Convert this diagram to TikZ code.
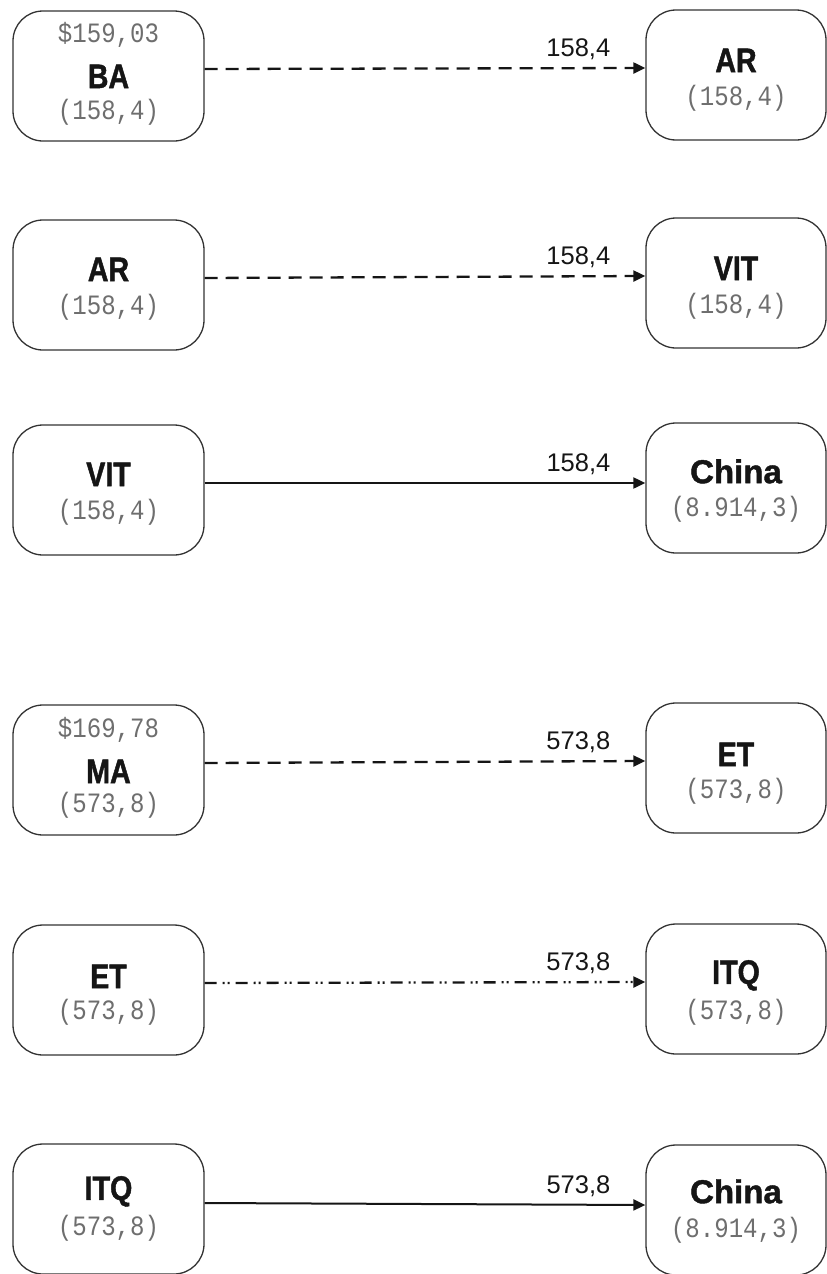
\documentclass[tikz,border=0pt]{standalone}
\usepackage{fontspec}
\setmainfont{Liberation Sans}
\newfontfamily\namefont[FakeStretch=0.84,FakeBold=1.3]{Liberation Sans}
\newfontfamily\widenamefont[FakeBold=1.3]{Liberation Sans}
\newfontfamily\numfont[FakeStretch=0.86]{Liberation Mono}
\usetikzlibrary{arrows.meta}
\definecolor{boxline}{HTML}{333333}
\definecolor{numgray}{HTML}{6E6E6E}
\definecolor{ink}{HTML}{151515}
\tikzset{
  flowbox/.style={draw=boxline, line width=1.3pt, rounded corners=30pt,
    minimum width=191pt, minimum height=130pt, inner sep=0pt},
  rbox/.style={flowbox, minimum width=180pt},
  nametxt/.style={inner sep=0pt, text=ink, font=\namefont\bfseries\fontsize{34}{34}\selectfont},
  widetxt/.style={inner sep=0pt, text=ink, font=\widenamefont\bfseries\fontsize{33}{33}\selectfont},
  numtxt/.style={inner sep=0pt, text=numgray, font=\numfont\fontsize{28}{28}\selectfont},
  conn/.style={draw=ink, line width=2pt, -{Triangle[length=12pt,width=11pt]}},
  dashA/.style={line width=2.3pt, dash pattern=on 13pt off 8pt},
  dashB/.style={line width=2.3pt, dash pattern=on 12pt off 6pt on 2pt off 3pt on 2pt off 6pt},
  lbl/.style={pos=1, anchor=base east, xshift=-34pt, yshift=12pt, inner sep=0pt,
    text=ink, font=\fontsize{25.5}{26}\selectfont}
}
\begin{document}
\begin{tikzpicture}[x=1pt,y=-1pt]
\useasboundingbox (0,0) rectangle (827,1274);
% ---------- row 1
\node[flowbox] (L1) at (108.5,76) {};
\node[numtxt] (L1a) at ([yshift=-25pt]L1.north) {\$159,03};
\node[nametxt] (L1b) at ([yshift=-66pt]L1.north) {BA};
\node[numtxt] (L1c) at ([yshift=-102pt]L1.north) {(158,4)};
\node[rbox] (R1) at (736,75) {};
\node[nametxt] (R1b) at ([yshift=-51pt]R1.north) {AR};
\node[numtxt] (R1c) at ([yshift=-89pt]R1.north) {(158,4)};
\draw[conn,dashA] ([yshift=7pt]L1.east) -- ([yshift=7pt]R1.west) node[lbl] (E1) {158,4};
% ---------- row 2
\node[flowbox] (L2) at (108.5,285) {};
\node[nametxt] (L2b) at ([yshift=-50pt]L2.north) {AR};
\node[numtxt] (L2c) at ([yshift=-88pt]L2.north) {(158,4)};
\node[rbox] (R2) at (736,283) {};
\node[nametxt] (R2b) at ([yshift=-51pt]R2.north) {VIT};
\node[numtxt] (R2c) at ([yshift=-89pt]R2.north) {(158,4)};
\draw[conn,dashA] ([yshift=7pt]L2.east) -- ([yshift=7pt]R2.west) node[lbl] (E2) {158,4};
% ---------- row 3
\node[flowbox] (L3) at (108.5,490) {};
\node[nametxt] (L3b) at ([yshift=-50pt]L3.north) {VIT};
\node[numtxt] (L3c) at ([yshift=-88pt]L3.north) {(158,4)};
\node[rbox] (R3) at (736,488) {};
\node[widetxt] (R3b) at ([yshift=-49pt]R3.north) {China};
\node[numtxt] (R3c) at ([yshift=-87pt]R3.north) {(8.914,3)};
\draw[conn] ([yshift=7pt]L3.east) -- ([yshift=5pt]R3.west) node[lbl] (E3) {158,4};
% ---------- row 4
\node[flowbox] (L4) at (108.5,770) {};
\node[numtxt] (L4a) at ([yshift=-26pt]L4.north) {\$169,78};
\node[nametxt] (L4b) at ([yshift=-67pt]L4.north) {MA};
\node[numtxt] (L4c) at ([yshift=-101pt]L4.north) {(573,8)};
\node[rbox] (R4) at (736,768) {};
\node[nametxt] (R4b) at ([yshift=-52pt]R4.north) {ET};
\node[numtxt] (R4c) at ([yshift=-89pt]R4.north) {(573,8)};
\draw[conn,dashA] ([yshift=7pt]L4.east) -- ([yshift=7pt]R4.west) node[lbl] (E4) {573,8};
% ---------- row 5
\node[flowbox] (L5) at (108.5,990) {};
\node[nametxt] (L5b) at ([yshift=-52pt]L5.north) {ET};
\node[numtxt] (L5c) at ([yshift=-88pt]L5.north) {(573,8)};
\node[rbox] (R5) at (736,989) {};
\node[nametxt] (R5b) at ([yshift=-52pt]R5.north) {ITQ};
\node[numtxt] (R5c) at ([yshift=-89pt]R5.north) {(573,8)};
\draw[conn,dashB] ([yshift=7pt]L5.east) -- ([yshift=7pt]R5.west) node[lbl] (E5) {573,8};
% ---------- row 6
\node[flowbox] (L6) at (108.5,1209) {};
\node[nametxt] (L6b) at ([yshift=-48pt]L6.north) {ITQ};
\node[numtxt] (L6c) at ([yshift=-85pt]L6.north) {(573,8)};
\node[rbox] (R6) at (736,1210) {};
\node[widetxt] (R6b) at ([yshift=-47pt]R6.north) {China};
\node[numtxt] (R6c) at ([yshift=-86pt]R6.north) {(8.914,3)};
\draw[conn] ([yshift=6pt]L6.east) -- ([yshift=5pt]R6.west) node[lbl] (E6) {573,8};
\end{tikzpicture}
\end{document}
